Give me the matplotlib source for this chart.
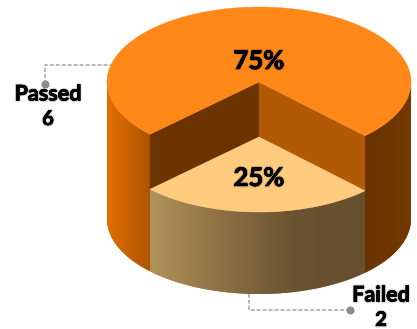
import numpy as np
import matplotlib
matplotlib.use("Agg")
import matplotlib.pyplot as plt
import matplotlib.patheffects as pe
from matplotlib.colors import LinearSegmentedColormap
from matplotlib.patches import Polygon

categories = ["Passed", "Failed"]
counts = [6, 2]

# cylinder geometry in pixels
cx, cy = 259, 82
rx, ry = 152, 75
depth = 137
sunk = 55
turn = np.radians(0.8)


def rim(theta, y0):
    # theta measured from straight down, going clockwise on screen
    return np.column_stack([cx - rx * np.sin(theta), y0 + ry * np.cos(theta)])


def shaded(ax, pts, x0, x1, colors):
    cmap = LinearSegmentedColormap.from_list("wall", colors)
    # flat backing so the clipped gradient has no pale fringe
    ax.add_patch(Polygon(pts, fc=colors[len(colors) // 2], ec="none", zorder=1.5))
    grad = np.linspace(0, 1, 256).reshape(1, -1)
    y0, y1 = pts[:, 1].min(), pts[:, 1].max()
    im = ax.imshow(grad, cmap=cmap, extent=[x0, x1, y1, y0], aspect="auto", zorder=2)
    patch = Polygon(pts, closed=True, transform=ax.transData, fc="none", ec="none")
    ax.add_patch(patch)
    im.set_clip_path(patch)


def halo(size):
    return [pe.withStroke(linewidth=size, foreground=(0, 0, 0, 0.06)),
            pe.withStroke(linewidth=size * 0.65, foreground=(0, 0, 0, 0.12)),
            pe.withStroke(linewidth=size * 0.3, foreground=(0, 0, 0, 0.4)),
            pe.Normal()]


fig = plt.figure(figsize=(4.17, 3.29), dpi=100)
ax = fig.add_axes([0, 0, 1, 1])
ax.set_xlim(0, 417)
ax.set_ylim(329, 0)
ax.axis("off")

total = sum(counts)
half = np.pi * counts[1] / total
lo, hi = turn - half, turn + half
bottom_y = cy + depth
front_y = cy + sunk

# outer walls, left and right of the cut-out slice
left = np.linspace(hi, np.pi / 2, 60)
pts = np.vstack([rim(left, cy), rim(left[::-1], bottom_y)])
shaded(ax, pts, cx - rx, rim(hi, cy)[0, 0], ["#E36E02", "#AC5401"])
right = np.linspace(lo, -np.pi / 2, 60)
pts = np.vstack([rim(right, cy), rim(right[::-1], bottom_y)])
shaded(ax, pts, rim(lo, cy)[0, 0], cx + rx, ["#693300", "#733901"])

# front wall of the slice
front = np.linspace(lo, hi, 120)
pts = np.vstack([rim(front, front_y), rim(front[::-1], bottom_y)])
shaded(ax, pts, rim(lo, cy)[0, 0], rim(hi, cy)[0, 0], ["#66502E", "#6A5331", "#8D7145", "#B09259"])

# inner faces of the cut
a, b = rim(hi, cy)[0], rim(lo, cy)[0]
ax.add_patch(Polygon([a, (cx, cy), (cx, front_y), a + (0, sunk)], fc="#6B3300", ec="#6B3300", lw=0.3, zorder=3))
ax.add_patch(Polygon([b, (cx, cy), (cx, front_y), b + (0, sunk)], fc="#B05A05", ec="#B05A05", lw=0.3, zorder=3))

# slice top
arc = rim(front, front_y)
ax.add_patch(Polygon(np.vstack([[(cx, front_y)], arc]), fc="#FFCB7F", ec="#FFCB7F", lw=0.3, zorder=4))

# main top
big = np.linspace(hi, 2 * np.pi + lo, 300)
ax.add_patch(Polygon(np.vstack([[(cx, cy)], rim(big, cy)]), fc="#FF8818", ec="#FF8818", lw=0.3, zorder=4))

# leader lines
line = dict(color="#A3A3A3", lw=1.1, ls=(0, (2.6, 1.3)), zorder=1)
ax.plot([45, 45, 113], [84, 64.5, 64.5], **line)
ax.plot([350, 249, 249], [310, 310, 293], **line)
ax.plot([45, 350], [84, 310], ls="none", marker="o", ms=4.8, color="#8C8C8C", zorder=1)

font = ["Lato", "DejaVu Sans"]
for y, n in zip([61, 178], counts):
    ax.text(cx, y, f"{n / total:.0%}", ha="center", va="center", fontsize=18.5, fontweight="bold",
            family=font, color="black", zorder=6, path_effects=halo(2.5))
for (x, y), name, n in zip([(48, 94), (381, 295)], categories, counts):
    ax.text(x, y, name, ha="center", va="center", fontsize=15.5, fontweight="bold", family=font,
            color="black", zorder=6, path_effects=halo(2.5))
    ax.text(x, y + 25, str(n), ha="center", va="center", fontsize=14.5,
            fontweight="bold", family=font, color="black", zorder=6, path_effects=halo(2.5))

fig.savefig("out.png", dpi=100, facecolor="white")
